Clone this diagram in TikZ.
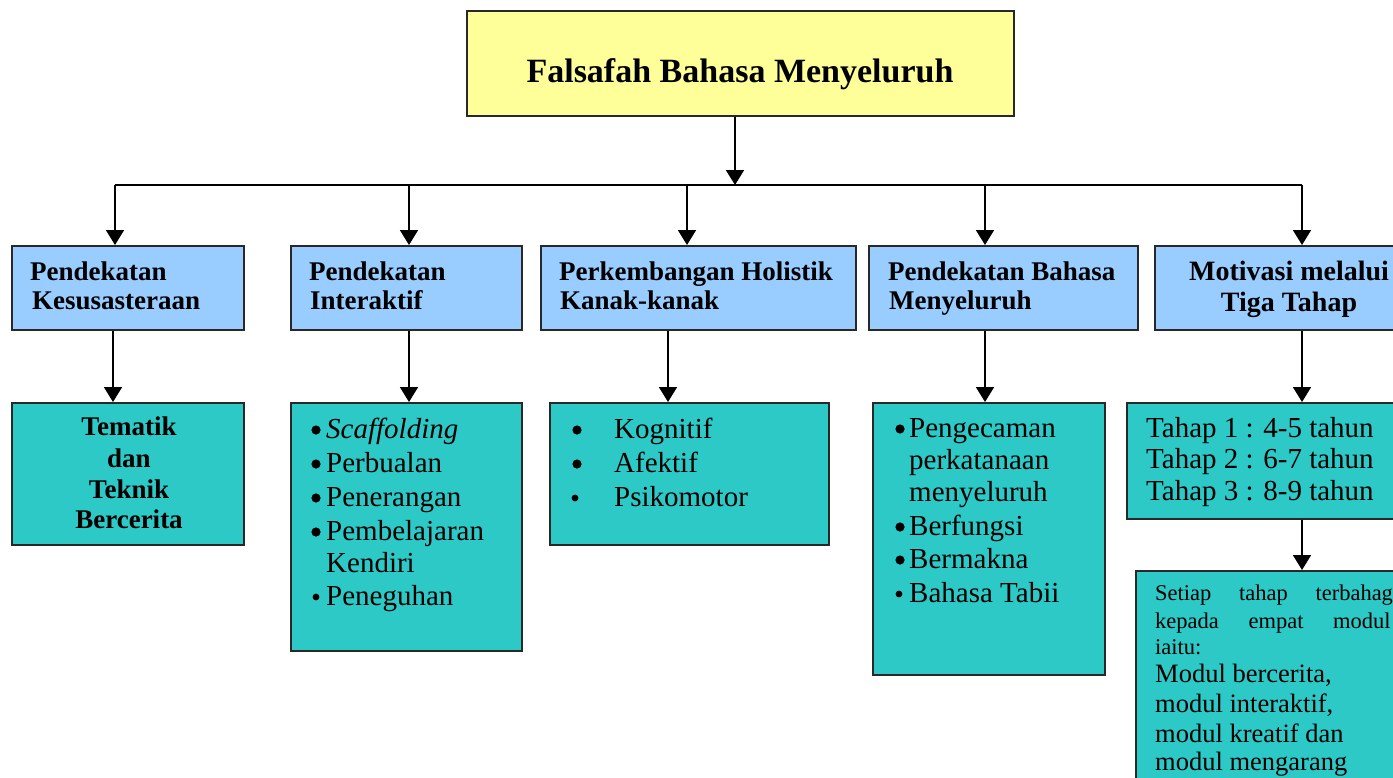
\documentclass[tikz,border=0pt]{standalone}
\usepackage{fontspec}
\setmainfont{Liberation Serif}
\usetikzlibrary{arrows.meta}
\definecolor{ttl}{RGB}{255,255,153}
\definecolor{blu}{RGB}{153,204,255}
\definecolor{tea}{RGB}{44,201,198}
\definecolor{brd}{RGB}{40,40,40}
\tikzset{
 boxbase/.style={draw=brd, line width=1.6pt, rectangle, anchor=north west, inner sep=0pt},
 titlebox/.style={boxbase, fill=ttl},
 headbox/.style={boxbase, fill=blu},
 tealbox/.style={boxbase, fill=tea},
 conn/.style={line width=1.8pt, black},
 arr/.style={conn, -{Triangle[width=18pt,length=15pt]}},
 hd/.style={font=\fontsize{27}{30}\selectfont\bfseries, inner sep=0pt, anchor=base west},
 hdc/.style={hd, anchor=base},
 bd/.style={font=\fontsize{29}{33}\selectfont, inner sep=0pt, anchor=base west},
 sm/.style={font=\fontsize{22.5}{24}\selectfont, inner sep=0pt, anchor=base west},
 md/.style={font=\fontsize{26.5}{30}\selectfont, inner sep=0pt, anchor=base west},
 bigdot/.style={fill=black},
}
\begin{document}
\begin{tikzpicture}[x=1pt,y=-1pt]
\useasboundingbox (0,0) rectangle (1393,777);
\fill[white] (0,0) rectangle (1393,777);
\clip (0,0) rectangle (1393,777);

% boxes
\node[titlebox, minimum width=547pt, minimum height=105pt] (title) at (466,10) {};
\node[headbox, minimum width=232pt, minimum height=84pt] (h1) at (11,245) {};
\node[headbox, minimum width=231pt, minimum height=84pt] (h2) at (290,245) {};
\node[headbox, minimum width=315pt, minimum height=84pt] (h3) at (540,245) {};
\node[headbox, minimum width=269pt, minimum height=84pt] (h4) at (868,245) {};
\node[headbox, minimum width=290pt, minimum height=84pt] (h5) at (1154,245) {};
\node[tealbox, minimum width=232pt, minimum height=142pt] (t1) at (11,402) {};
\node[tealbox, minimum width=231pt, minimum height=248pt] (t2) at (290,402) {};
\node[tealbox, minimum width=279pt, minimum height=142pt] (t3) at (549,402) {};
\node[tealbox, minimum width=232pt, minimum height=272pt] (t4) at (872,402) {};
\node[tealbox, minimum width=300pt, minimum height=116pt] (t5) at (1126,402) {};
\node[tealbox, minimum width=300pt, minimum height=240pt] (t6) at (1135,570) {};

% connectors
\coordinate (tx) at (735,0);
\coordinate (bus) at (735,185);
\coordinate (busL) at (115,185);
\coordinate (busR) at (1302,185);
\coordinate (d2) at (409,185);
\coordinate (d3) at (687,185);
\coordinate (d4) at (985,185);
\draw[arr] (tx |- title.south) -- (bus);
\draw[conn] (busL) -- (busR);
\draw[arr] (busL) -- (busL |- h1.north);
\draw[arr] (d2) -- (d2 |- h2.north);
\draw[arr] (d3) -- (d3 |- h3.north);
\draw[arr] (d4) -- (d4 |- h4.north);
\draw[arr] (busR) -- (busR |- h5.north);
\coordinate (a1) at (113,0);
\coordinate (a2) at (409,0);
\coordinate (a3) at (668,0);
\coordinate (a4) at (985,0);
\coordinate (a5) at (1302,0);
\draw[arr] (a1 |- h1.south) -- (a1 |- t1.north);
\draw[arr] (a2 |- h2.south) -- (a2 |- t2.north);
\draw[arr] (a3 |- h3.south) -- (a3 |- t3.north);
\draw[arr] (a4 |- h4.south) -- (a4 |- t4.north);
\draw[arr] (a5 |- h5.south) -- (a5 |- t5.north);
\draw[arr] (a5 |- t5.south) -- (a5 |- t6.north);

% title text
\node[font=\fontsize{34}{40}\selectfont\bfseries, inner sep=0pt, anchor=base] (titletxt) at (740,82) {Falsafah Bahasa Menyeluruh};

% header texts
\node[hd] (h1a) at (30,280) {Pendekatan};
\node[hd] (h1b) at (32,309) {Kesusasteraan};
\node[hd] (h2a) at (309,280) {Pendekatan};
\node[hd] (h2b) at (310,309) {Interaktif};
\node[hd] (h3a) at (559,280) {Perkembangan Holistik};
\node[hd] (h3b) at (560,309) {Kanak-kanak};
\node[hd] (h4a) at (888,280) {Pendekatan Bahasa};
\node[hd] (h4b) at (889,309) {Menyeluruh};
\node[hdc, font=\fontsize{28}{30}\selectfont\bfseries] (h5a) at (1289,280) {Motivasi melalui};
\node[hdc, font=\fontsize{28}{30}\selectfont\bfseries] (h5b) at (1289,311) {Tiga Tahap};

% teal box 1
\node[hdc] (t1a) at (129,435) {Tematik};
\node[hdc] (t1b) at (129,467) {dan};
\node[hdc] (t1c) at (129,498) {Teknik};
\node[hdc] (t1d) at (129,528) {Bercerita};

% teal box 2
\node[bd] (t2a) at (326,438) {\textit{Scaffolding}};
\node[bd] (t2b) at (326,472) {Perbualan};
\node[bd] (t2c) at (326,506) {Penerangan};
\node[bd] (t2d) at (326,540) {Pembelajaran};
\node[bd] (t2e) at (326,572) {Kendiri};
\node[bd] (t2f) at (326,605) {Peneguhan};
\foreach \yy in {430,464,498,532} \fill[bigdot] (316,\yy) circle (4.6pt);
\fill[bigdot] (316,597) circle (3.4pt);

% teal box 3
\node[bd] (t3a) at (614,438) {Kognitif};
\node[bd] (t3b) at (614,472) {Afektif};
\node[bd] (t3c) at (614,506) {Psikomotor};
\foreach \yy in {430,464} \fill[bigdot] (577,\yy) circle (4.6pt);
\fill[bigdot] (575,498) circle (3.4pt);

% teal box 4
\node[bd] (t4a) at (909,437) {Pengecaman};
\node[bd] (t4b) at (909,469) {perkatanaan};
\node[bd] (t4c) at (909,501) {menyeluruh};
\node[bd] (t4d) at (909,535) {Berfungsi};
\node[bd] (t4e) at (909,568) {Bermakna};
\node[bd] (t4f) at (909,602) {Bahasa Tabii};
\foreach \yy in {429,527,560} \fill[bigdot] (900,\yy) circle (4.6pt);
\fill[bigdot] (899,594) circle (3.4pt);

% teal box 5
\node[bd] (t5a) at (1146,437) {Tahap 1 : 4-5 tahun};
\node[bd] (t5b) at (1146,468) {Tahap 2 : 6-7 tahun};
\node[bd] (t5c) at (1146,500) {Tahap 3 : 8-9 tahun};

% teal box 6
\node[sm] (t6a) at (1155,600) {\makebox[244pt][l]{Setiap\hfill tahap\hfill terbahagi}};
\node[sm] (t6b) at (1155,628) {\makebox[235.5pt][l]{kepada\hfill empat\hfill modul}};
\node[sm] (t6c) at (1155,654) {iaitu:};
\node[md] (t6d) at (1155,682) {Modul bercerita,};
\node[md] (t6e) at (1155,712) {modul interaktif,};
\node[md] (t6f) at (1155,742) {modul kreatif dan};
\node[md] (t6g) at (1155,770) {modul mengarang};
\end{tikzpicture}
\end{document}
